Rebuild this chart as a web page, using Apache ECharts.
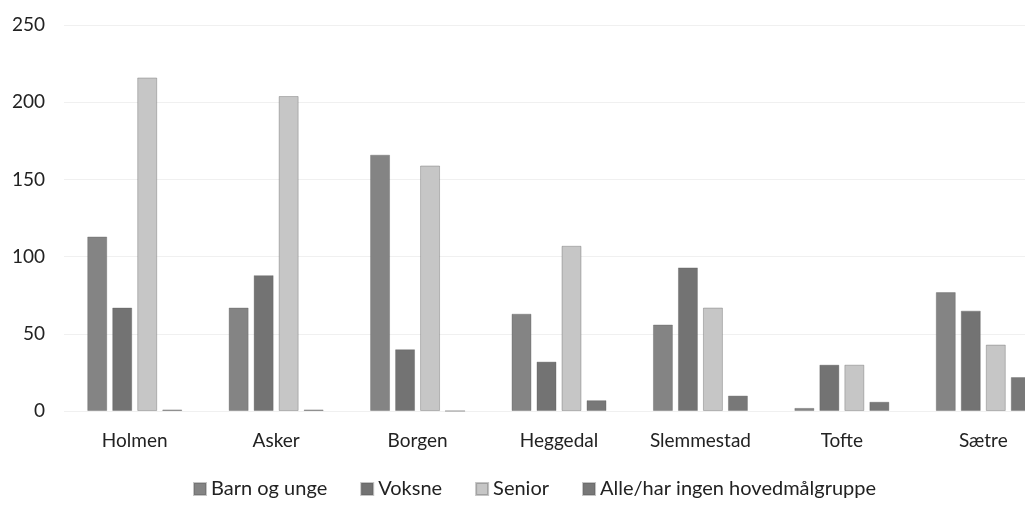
<!DOCTYPE html>
<html><head><meta charset="utf-8">
<script src="https://cdn.jsdelivr.net/npm/echarts@6/dist/echarts.min.js"></script>
<style>html,body{margin:0;padding:0;background:#fff;overflow:hidden;width:1025px;height:506px}#c{width:1060px;height:506px}</style>
</head><body><div id="c"></div>
<script>
const categories = ["Holmen","Asker","Borgen","Heggedal","Slemmestad","Tofte","Sætre"];
const barnOgUnge = [113, 67, 166, 63, 56, 2, 77];
const voksne = [67, 88, 40, 32, 93, 30, 65];
const senior = [216, 204, 159, 107, 67, 30, 43];
const alle = [1, 1, 0, 7, 10, 6, 22];
const seriesNames = ["Barn og unge","Voksne","Senior","Alle/har ingen hovedmålgruppe"];
const colors = ["#848484","#737373","#c6c6c6","#787878"];
const font = "Lato, 'Open Sans', sans-serif";
const chart = echarts.init(document.getElementById('c'));
const data = [barnOgUnge, voksne, senior, alle];
chart.setOption({
  animation:false,
  color: colors,
  grid:{left:64, top:25, right:6, bottom:95, containLabel:false},
  legend:{bottom:2, left:188, itemWidth:12, itemHeight:12, itemGap:33,
    icon:'rect', textStyle:{fontFamily:font, fontSize:20, color:'#222'}, data:seriesNames},
  xAxis:{type:'category', data:categories, axisLine:{show:false}, axisTick:{show:false},
    axisLabel:{fontFamily:font, fontSize:19, color:'#222', margin:20, interval:0}},
  yAxis:{type:'value', min:0, max:250, interval:50,
    axisLabel:{fontFamily:font, fontSize:19, color:'#222', margin:19},
    splitLine:{lineStyle:{color:'#f0f0f0', width:1}}},
  series: seriesNames.map((n,i)=>({name:n, type:'bar', data:data[i], barWidth:20, barGap:'25%',
    itemStyle:{color:colors[i], borderColor:'rgba(90,90,90,0.35)', borderWidth:1}}))
});
</script></body></html>
